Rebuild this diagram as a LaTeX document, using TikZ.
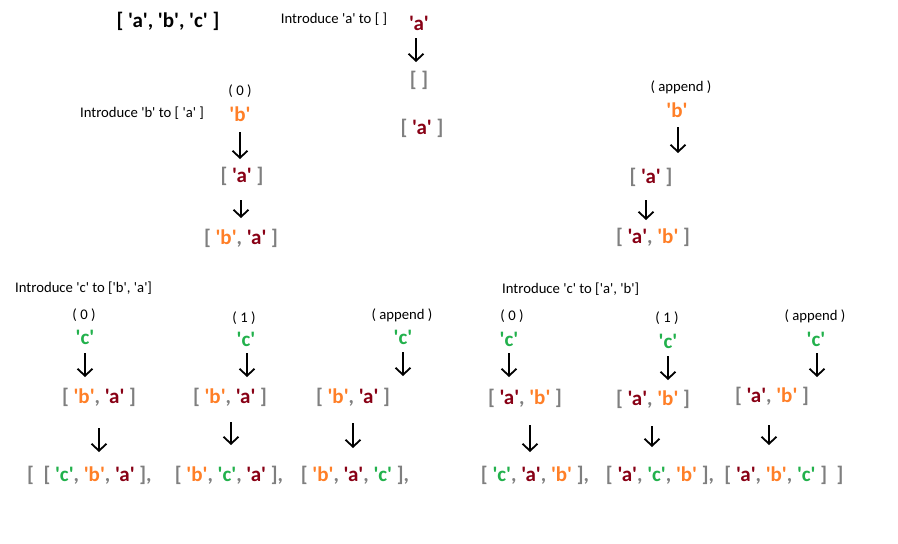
\documentclass[tikz,border=0pt]{standalone}
\usepackage{fontspec}
\newfontfamily\carl{Carlito}
\usetikzlibrary{arrows.meta}
\definecolor{gr}{HTML}{7F7F7F}
\definecolor{ra}{HTML}{880015}
\definecolor{ob}{HTML}{FF7F27}
\definecolor{gc}{HTML}{22B14C}
\newcommand{\qa}{{\color{ra}'a'}}
\newcommand{\qb}{{\color{ob}'b'}}
\newcommand{\qc}{{\color{gc}'c'}}
\begin{document}
\begin{tikzpicture}[x=1pt,y=-1pt,
  lbl/.style={inner sep=0pt,font=\carl\fontsize{14.7}{16}\selectfont,text=black},
  lst/.style={inner sep=0pt,font=\carl\bfseries\fontsize{21}{23}\selectfont,text=gr},
  itm/.style={inner sep=0pt,font=\carl\bfseries\fontsize{21}{23}\selectfont},
  arr/.style 2 args={line width=1.8pt,-{Straight Barb[length=7pt,width=15pt,line width=1.8pt]},shorten <=#1,shorten >=#2}]
\useasboundingbox (0,0) rectangle (898,544);
\fill[white] (0,0) rectangle (898,544);
% title
\node[lst,text=black] (title) at (168,21) {[ 'a', 'b', 'c' ]};
% step a
\node[lbl] (la) at (334,19) {Introduce 'a' to [ ]};
\node[itm] (a0) at (419,23) {\qa};
\node[lst] (e0) at (419,80) {[ ]};
\node[lst] (r0) at (422,128) {[ \qa\ ]};
\draw[arr={15pt}{18pt}] ([xshift=-3pt]a0.center) -- ([xshift=-3pt]a0.center |- e0.center);
% step b, left
\node[lbl] (lb) at (142,113) {Introduce 'b' to [ 'a' ]};
\node[lbl] (p0b) at (240,91) {( 0 )};
\node[itm] (b1) at (240,114) {\qb};
\node[lst] (s1) at (242,176) {[ \qa\ ]};
\node[lst] (r1) at (241,238) {[ \qb, \qa\ ]};
\draw[arr={18pt}{17pt}] (b1.center) -- (b1.center |- s1.center);
\draw[arr={24pt}{20pt}] ([xshift=-1pt]s1.center) -- ([xshift=-1pt]s1.center |- r1.center);
% step b, right
\node[lbl] (pab) at (681,87) {( append )};
\node[itm] (b2) at (677,110) {\qb};
\node[lst] (s2) at (651,177) {[ \qa\ ]};
\node[lst] (r2) at (653,237) {[ \qa, \qb\ ]};
\draw[arr={17pt}{24pt}] ([xshift=1pt]b2.center) -- ([xshift=1pt]b2.center |- s2.center);
\draw[arr={23pt}{17pt}] ([xshift=-5pt]s2.center) -- ([xshift=-5pt]s2.center |- r2.center);
% step c, left group
\node[lbl,anchor=west] (lc1) at (15,288) {Introduce 'c' to ['b', 'a']};
\node[lbl] (p0c1) at (84,315) {( 0 )};
\node[itm] (c1) at (85,337) {\qc};
\node[lst] (s3) at (99,397) {[ \qb, \qa\ ]};
\node[lst,anchor=west] (r3) at (27,475) {[\ \ [ \qc, \qb, \qa\ ],};
\draw[arr={16pt}{20pt}] (c1.center) -- (c1.center |- s3.center);
\draw[arr={31pt}{23pt}] (s3.center) -- (s3.center |- r3.center);
\node[lbl] (p1c1) at (244,318) {( 1 )};
\node[itm] (c2) at (246,339) {\qc};
\node[lst] (s4) at (230,397) {[ \qb, \qa\ ]};
\node[lst] (r4) at (229,475) {[ \qb, \qc, \qa\ ],};
\draw[arr={14pt}{20pt}] ([xshift=1pt]c2.center) -- ([xshift=1pt]c2.center |- s4.center);
\draw[arr={25pt}{30pt}] ([xshift=1pt]s4.center) -- ([xshift=1pt]s4.center |- r4.center);
\node[lbl] (pac1) at (402,315) {( append )};
\node[itm] (c3) at (403,337) {\qc};
\node[lst] (s5) at (353,397) {[ \qb, \qa\ ]};
\node[lst] (r5) at (355,475) {[ \qb, \qa, \qc\ ],};
\draw[arr={15pt}{21pt}] (c3.center) -- (c3.center |- s5.center);
\draw[arr={26pt}{27pt}] (s5.center) -- (s5.center |- r5.center);
% step c, right group
\node[lbl,anchor=west] (lc2) at (502,289) {Introduce 'c' to ['a', 'b']};
\node[lbl] (p0c2) at (512,316) {( 0 )};
\node[itm] (c4) at (509,339) {\qc};
\node[lst] (s6) at (525,398) {[ \qa, \qb\ ]};
\node[lst] (r6) at (535,475) {[ \qc, \qa, \qb\ ],};
\draw[arr={14pt}{21pt}] (c4.center) -- (c4.center |- s6.center);
\draw[arr={27pt}{23pt}] ([xshift=5pt]s6.center) -- ([xshift=5pt]s6.center |- r6.center);
\node[lbl] (p1c2) at (667,318) {( 1 )};
\node[itm] (c5) at (668,341) {\qc};
\node[lst] (s7) at (653,399) {[ \qa, \qb\ ]};
\node[lst] (r7) at (660,475) {[ \qa, \qc, \qb\ ],};
\draw[arr={15pt}{19pt}] (c5.center) -- (c5.center |- s7.center);
\draw[arr={27pt}{28pt}] ([xshift=-1pt]s7.center) -- ([xshift=-1pt]s7.center |- r7.center);
\node[lbl] (pac2) at (815,316) {( append )};
\node[itm] (c6) at (816,339) {\qc};
\node[lst] (s8) at (772,396) {[ \qa, \qb\ ]};
\node[lst] (r8) at (784,475) {[ \qa, \qb, \qc\ ]\ \ ]};
\draw[arr={14pt}{19pt}] ([xshift=1pt]c6.center) -- ([xshift=1pt]c6.center |- s8.center);
\draw[arr={29pt}{30pt}] ([xshift=-3pt]s8.center) -- ([xshift=-3pt]s8.center |- r8.center);
\end{tikzpicture}
\end{document}
